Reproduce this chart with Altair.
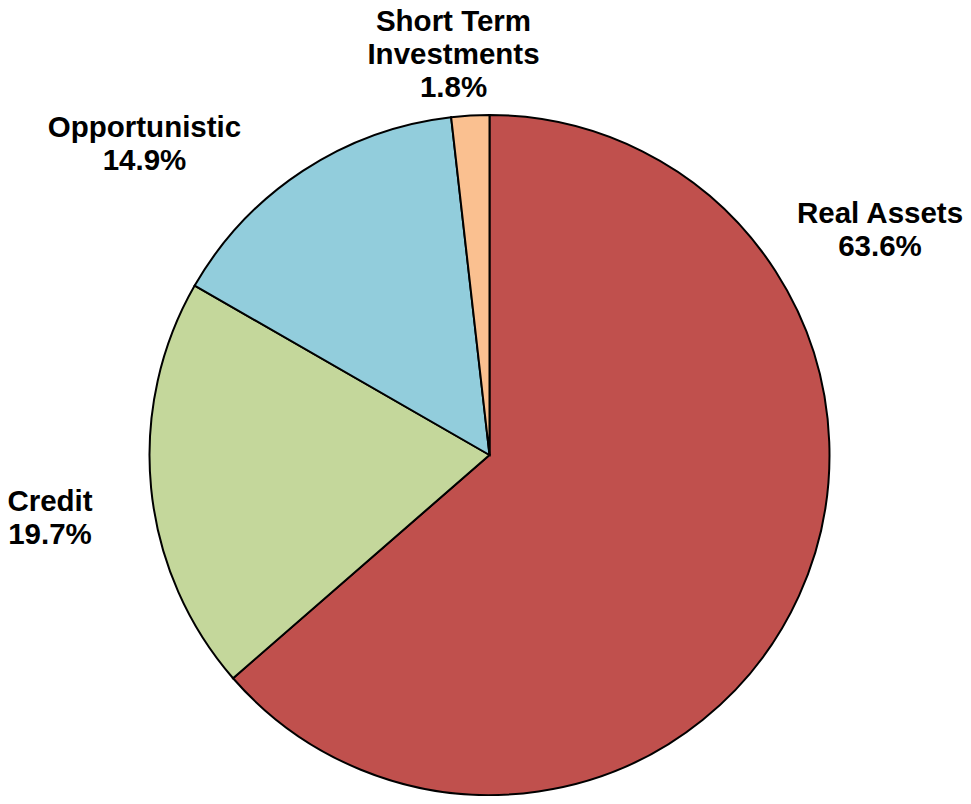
import altair as alt
import pandas as pd

categories = ["Real Assets", "Credit", "Opportunistic", "Short Term\nInvestments"]
values = [63.6, 19.7, 14.9, 1.8]
colors = ["#C0504D", "#C4D79B", "#92CDDC", "#FAC090"]

# label layout (chart pixel coordinates of first text baseline)
label_x = [872, 42, 136.5, 445.5]
label_y = [215, 503, 128.5, 23]

names = [c.replace("\n", " ") for c in categories]
df = pd.DataFrame({
    "name": names,
    "value": values,
    "idx": list(range(len(values))),
})
lab = pd.DataFrame({
    "name": names,
    "text": [f"{c}\n{v:.1f}%" for c, v in zip(categories, values)],
    "lx": label_x,
    "ly": label_y,
})

pie = alt.Chart(df).mark_arc(
    radius=340, stroke="black", strokeWidth=2, x=481.5, y=447
).encode(
    theta=alt.Theta("value:Q", stack=True),
    order=alt.Order("idx:Q"),
    color=alt.Color("name:N", scale=alt.Scale(domain=names, range=colors), legend=None),
)

text = alt.Chart(lab).mark_text(
    font="Liberation Sans", fontWeight="bold", fontSize=29.5, lineBreak="\n",
    lineHeight=33, align="center", baseline="alphabetic", color="black"
).encode(
    x=alt.X("lx:Q", scale=None, axis=None),
    y=alt.Y("ly:Q", scale=None, axis=None),
    text="text:N",
)

chart = alt.layer(pie, text).properties(
    width=955, height=788, padding=0, autosize=alt.AutoSizeParams(type="none")
).configure_view(stroke=None)

chart.save("out.html", embed_options={"renderer": "svg", "actions": False})
